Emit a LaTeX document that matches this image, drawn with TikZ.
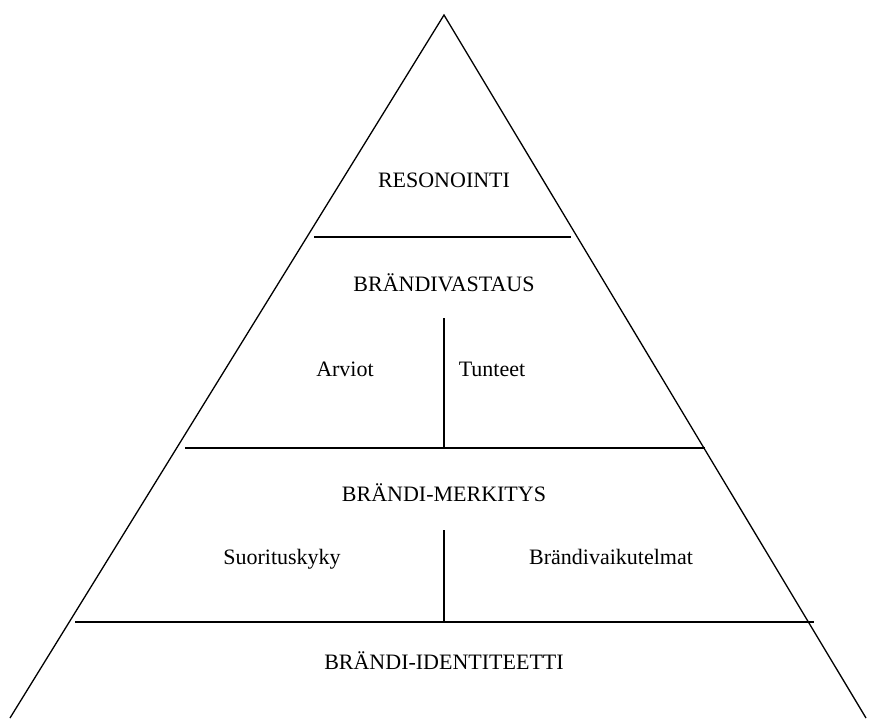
\documentclass[tikz,border=0pt]{standalone}
\usepackage{fontspec}
\setmainfont{Liberation Serif}
\usetikzlibrary{positioning}

\begin{document}
\begin{tikzpicture}[x=1pt,y=-1pt,line width=1.3pt,
	level/.style={font=\fontsize{22}{26}\selectfont,text height=1.6ex,text depth=.3ex},
	part/.style={font=\fontsize{22}{26}\selectfont,text height=1.6ex,text depth=.3ex},
	divider/.style={line width=1.8pt}]
	\useasboundingbox (0,0) rectangle (869,718);
	
	%Pyramid corners
	\coordinate (top) at (444,15);
	\coordinate (bl) at (10,718);
	\coordinate (br) at (866,718);
	
	%Level dividers
	\coordinate (d1l) at (314,237); \coordinate (d1r) at (571,237);
	\coordinate (d2l) at (185,448); \coordinate (d2r) at (705,448);
	\coordinate (d3l) at (75,622);  \coordinate (d3r) at (814,622);
	\coordinate (s1t) at (444,318); \coordinate (s2t) at (444,530);
	\coordinate (s1b) at (444,448); \coordinate (s2b) at (444,622);
	
	%Levels
	\node[level] (reso)  at (444,185) {RESONOINTI};
	\node[level] (vast)  at (444,289) {BRÄNDIVASTAUS};
	\node[part]  (arv)   at (345,374) {Arviot};
	\node[part]  (tunt)  at (492,374) {Tunteet};
	\node[level] (merk)  at (444,499) {BRÄNDI-MERKITYS};
	\node[part]  (suor)  at (282,562) {Suorituskyky};
	\node[part]  (vaik)  at (611,562) {Brändivaikutelmat};
	\node[level] (ident) at (444,667) {BRÄNDI-IDENTITEETTI};
	
	%Pyramid lines
	\draw (bl) -- (top) -- (br);
	\draw[divider] (d1l) -- (d1r);
	\draw[divider] (d2l) -- (d2r);
	\draw[divider] (d3l) -- (d3r);
	\draw (s1t) -- (s1b);
	\draw (s2t) -- (s2b);
	
\end{tikzpicture}
\end{document}
